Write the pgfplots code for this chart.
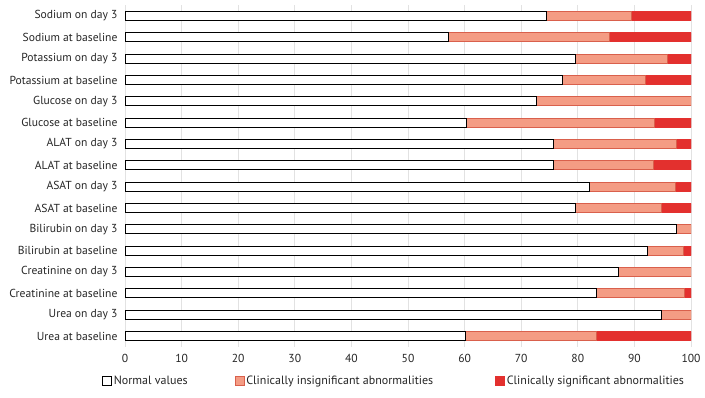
\documentclass[border=0pt]{standalone}
\usepackage{pgfplots}
\pgfplotsset{compat=1.18}
\usepackage{fontspec}
\setmainfont{PT Sans}
\definecolor{pinkc}{HTML}{F49C84}
\definecolor{pinkb}{HTML}{D9604C}
\definecolor{redc}{HTML}{E3302E}
\definecolor{gridc}{HTML}{E2E2E2}
\begin{document}
\begin{tikzpicture}
\path[use as bounding box] (-125bp,-51.3bp) rectangle (580bp,346.7bp);
\begin{axis}[
  at={(0,0)}, anchor=south west,
  scale only axis,
  width=566bp, height=341.4bp,
  xbar stacked,
  bar width=9bp,
  xmin=0, xmax=100,
  ymin=-0.5, ymax=15.5,
  y dir=reverse,
  xtick={0,10,...,100},
  ytick={0,...,15},
  yticklabels={Sodium on day 3,Sodium at baseline,Potassium on day 3,Potassium at baseline,Glucose on day 3,Glucose at baseline,ALAT on day 3,ALAT at baseline,ASAT on day 3,ASAT at baseline,Bilirubin on day 3,Bilirubin at baseline,Creatinine on day 3,Creatinine at baseline,Urea on day 3,Urea at baseline},
  xmajorgrids,
  major grid style={gridc, line width=0.8bp},
  axis line style={draw=none},
  major tick length=0pt,
  tick label style={font=\fontsize{11.6bp}{13bp}\selectfont, text=black!85},
  xticklabel style={yshift=-4bp},
  yticklabel style={xshift=-4bp},
  /pgf/number format/assume math mode=true,
  legend columns=3,
  legend style={draw=none, at={(-0.046,-0.1)}, anchor=west,
    font=\fontsize{12bp}{13bp}\selectfont, text=black!85,
    /tikz/column 2/.style={column sep=45bp},
    /tikz/column 4/.style={column sep=60bp}},
  legend image code/.code={\draw[#1, line width=0.7bp] (0bp,-4.5bp) rectangle (9bp,4.5bp);},
  legend cell align=left,
]
\addplot[fill=white, draw=black, line width=0.9bp] coordinates {
(74.4,0) (57.1,1) (79.6,2) (77.3,3) (72.7,4) (60.3,5) (75.7,6) (75.7,7)
(82.0,8) (79.6,9) (97.4,10) (92.3,11) (87.2,12) (83.3,13) (94.8,14) (60.1,15)};
\addplot[fill=pinkc, draw=pinkb, line width=0.8bp] coordinates {
(15.1,0) (28.5,1) (16.2,2) (14.7,3) (27.3,4) (33.2,5) (21.7,6) (17.6,7)
(15.3,8) (15.2,9) (2.6,10) (6.3,11) (12.8,12) (15.5,13) (5.2,14) (23.2,15)};
\addplot[fill=redc, draw=redc, line width=0.8bp] coordinates {
(10.5,0) (14.4,1) (4.2,2) (8.0,3) (0,4) (6.5,5) (2.6,6) (6.7,7)
(2.7,8) (5.2,9) (0,10) (1.4,11) (0,12) (1.2,13) (0,14) (16.7,15)};
\legend{Normal values, Clinically insignificant abnormalities, Clinically significant abnormalities}
\end{axis}
\end{tikzpicture}
\end{document}
